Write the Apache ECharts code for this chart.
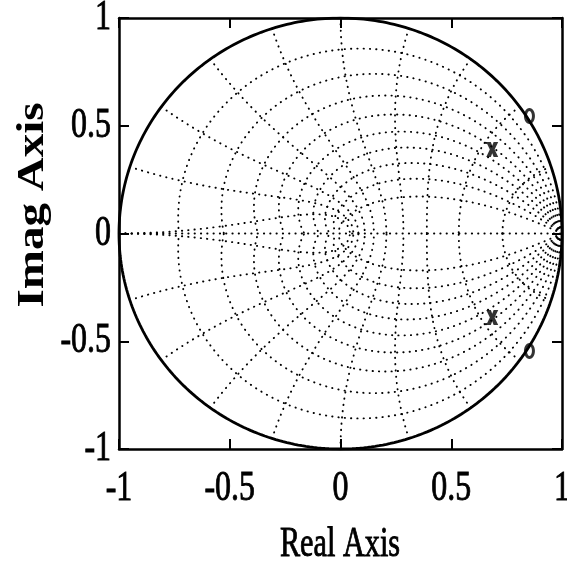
<!DOCTYPE html>
<html>
<head>
<meta charset="utf-8">
<script src="https://cdn.jsdelivr.net/npm/echarts@6/dist/echarts.min.js"></script>
<style>
  html, body { margin: 0; padding: 0; background: #ffffff; }
  #main { width: 567px; height: 565px; }
</style>
</head>
<body>
<div id="main"></div>
<script>
// Pole-zero map in the z-plane with a damping ratio / natural frequency grid.

// Poles (x) and zeros (o)
const poleRe = [0.685, 0.685];
const poleIm = [0.39, -0.39];
const zeroRe = [0.853, 0.853];
const zeroIm = [0.545, -0.545];

// Axis ticks
const tickValues = [-1, -0.5, 0, 0.5, 1];
const tickLabels = ['-1', '-0.5', '0', '0.5', '1'];

// Grid parameters: damping ratios and natural frequencies (fractions of pi/T)
const zetaValues = [0.1, 0.2, 0.3, 0.4, 0.5, 0.6, 0.7, 0.8, 0.9];
const wnFractions = [0.1, 0.2, 0.3, 0.4, 0.5, 0.6, 0.7, 0.8, 0.9, 1.0];

const AXIS_FONT = '"Liberation Serif", "Times New Roman", serif';
const ink = '#000000';

const chart = echarts.init(document.getElementById('main'), null, { renderer: 'canvas' });

// Dotted grid style
const gridLine = {
  color: ink,
  width: 1.9,
  type: [0.3, 6],
  cap: 'round'
};

function curveSeries(points) {
  return {
    type: 'line',
    xAxisIndex: 0,
    yAxisIndex: 0,
    data: points,
    showSymbol: false,
    symbol: 'none',
    silent: true,
    animation: false,
    lineStyle: gridLine,
    z: 1
  };
}

const series = [];

// Constant damping ratio spirals: z = exp(-zeta*t/sqrt(1-zeta^2)) * e^{jt}, t in [0, pi]
zetaValues.forEach(function (zeta) {
  const up = [], dn = [];
  const n = 90;
  const k = zeta / Math.sqrt(1 - zeta * zeta);
  for (let i = 0; i <= n; i++) {
    const t = Math.PI * i / n;
    const r = Math.exp(-k * t);
    up.push([r * Math.cos(t), r * Math.sin(t)]);
    dn.push([r * Math.cos(t), -r * Math.sin(t)]);
  }
  series.push(curveSeries(up));
  series.push(curveSeries(dn));
});

// Constant natural frequency curves: z = exp(-zeta*w) * e^{j w sqrt(1-zeta^2)}, zeta in [0, 1]
wnFractions.forEach(function (f) {
  const w = f * Math.PI;
  const up = [], dn = [];
  const n = 60;
  for (let i = 0; i <= n; i++) {
    const zeta = i / n;
    const r = Math.exp(-zeta * w);
    const a = w * Math.sqrt(1 - zeta * zeta);
    up.push([r * Math.cos(a), r * Math.sin(a)]);
    dn.push([r * Math.cos(a), -r * Math.sin(a)]);
  }
  series.push(curveSeries(up));
  series.push(curveSeries(dn));
});

// Real axis
series.push(curveSeries([[-1, 0], [1, 0]]));

// Unit circle
const circle = [];
for (let i = 0; i <= 360; i++) {
  const t = i * Math.PI / 180;
  circle.push([Math.cos(t), Math.sin(t)]);
}
series.push({
  type: 'line',
  data: circle,
  showSymbol: false,
  symbol: 'none',
  silent: true,
  animation: false,
  lineStyle: { color: ink, width: 2.8 },
  z: 3
});

// Poles
series.push({
  type: 'scatter',
  data: poleRe.map(function (re, i) { return [re, poleIm[i]]; }),
  symbol: 'path://M0,0 L4.6,0 L6,3.8 L7.4,0 L12,0 L8.4,7.5 L12,15 L7.4,15 L6,11.2 L4.6,15 L0,15 L3.6,7.5 Z',
  symbolSize: [12, 15],
  itemStyle: { color: ink },
  animation: false,
  z: 5
});

// Zero marker: an elliptical ring, outer contour clockwise and inner contour
// counter-clockwise so the middle stays open
function ringPath(rx, ry, t) {
  const n = 28;
  let d = '';
  for (let i = 0; i <= n; i++) {
    const a = 2 * Math.PI * i / n;
    d += (i === 0 ? 'M' : 'L') + (rx + rx * Math.cos(a)).toFixed(2) + ',' + (ry + ry * Math.sin(a)).toFixed(2);
  }
  d += 'Z';
  for (let i = 0; i <= n; i++) {
    const a = -2 * Math.PI * i / n;
    d += (i === 0 ? 'M' : 'L') + (rx + (rx - t) * Math.cos(a)).toFixed(2) + ',' + (ry + (ry - t) * Math.sin(a)).toFixed(2);
  }
  return 'path://' + d + 'Z';
}

series.push({
  type: 'scatter',
  data: zeroRe.map(function (re, i) { return [re, zeroIm[i]]; }),
  symbol: ringPath(5.5, 8, 3),
  symbolSize: [11, 16],
  itemStyle: { color: ink },
  animation: false,
  z: 5
});

function valueAxis(position) {
  return {
    type: 'value',
    position: position,
    min: -1,
    max: 1,
    interval: 0.5,
    gridIndex: 0,
    axisLine: { show: true, onZero: false, lineStyle: { color: ink, width: 2.5 } },
    axisTick: { show: true, inside: true, length: 10, lineStyle: { color: ink, width: 2 } },
    axisLabel: { show: false },
    splitLine: { show: false }
  };
}

chart.setOption({
  backgroundColor: '#ffffff',
  animation: false,
  grid: { left: 119, top: 18, width: 443, height: 431, show: false },
  xAxis: [valueAxis('bottom'), valueAxis('top')],
  yAxis: [valueAxis('left'), valueAxis('right')],
  series: series
});

// Tick labels and axis titles, set in a condensed serif face
function label(text, x, y, align, size, sx) {
  return {
    type: 'text',
    x: x,
    y: y,
    scaleX: sx,
    scaleY: 1,
    silent: true,
    style: {
      text: text,
      fill: ink,
      stroke: ink,
      lineWidth: 0.9,
      font: size + 'px ' + AXIS_FONT,
      textAlign: align,
      textVerticalAlign: 'middle'
    }
  };
}

const graphics = [];
tickValues.forEach(function (v, i) {
  const px = chart.convertToPixel({ xAxisIndex: 0 }, v);
  graphics.push(label(tickLabels[i], px, 489, 'center', 42, 0.76));
});
tickValues.forEach(function (v, i) {
  const py = chart.convertToPixel({ yAxisIndex: 0 }, v);
  graphics.push(label(tickLabels[i], 111, py, 'right', 42, 0.76));
});
graphics.push(label('Real Axis', 340, 545, 'center', 42, 0.72));
graphics.push({
  type: 'text',
  x: 33,
  y: 205,
  rotation: Math.PI / 2,
  scaleX: 1,
  scaleY: 0.8,
  silent: true,
  style: {
    text: 'Imag Axis',
    fill: ink,
    font: 'bold 47px ' + AXIS_FONT,
    textAlign: 'center',
    textVerticalAlign: 'middle'
  }
});

chart.setOption({ graphic: graphics });
</script>
</body>
</html>
